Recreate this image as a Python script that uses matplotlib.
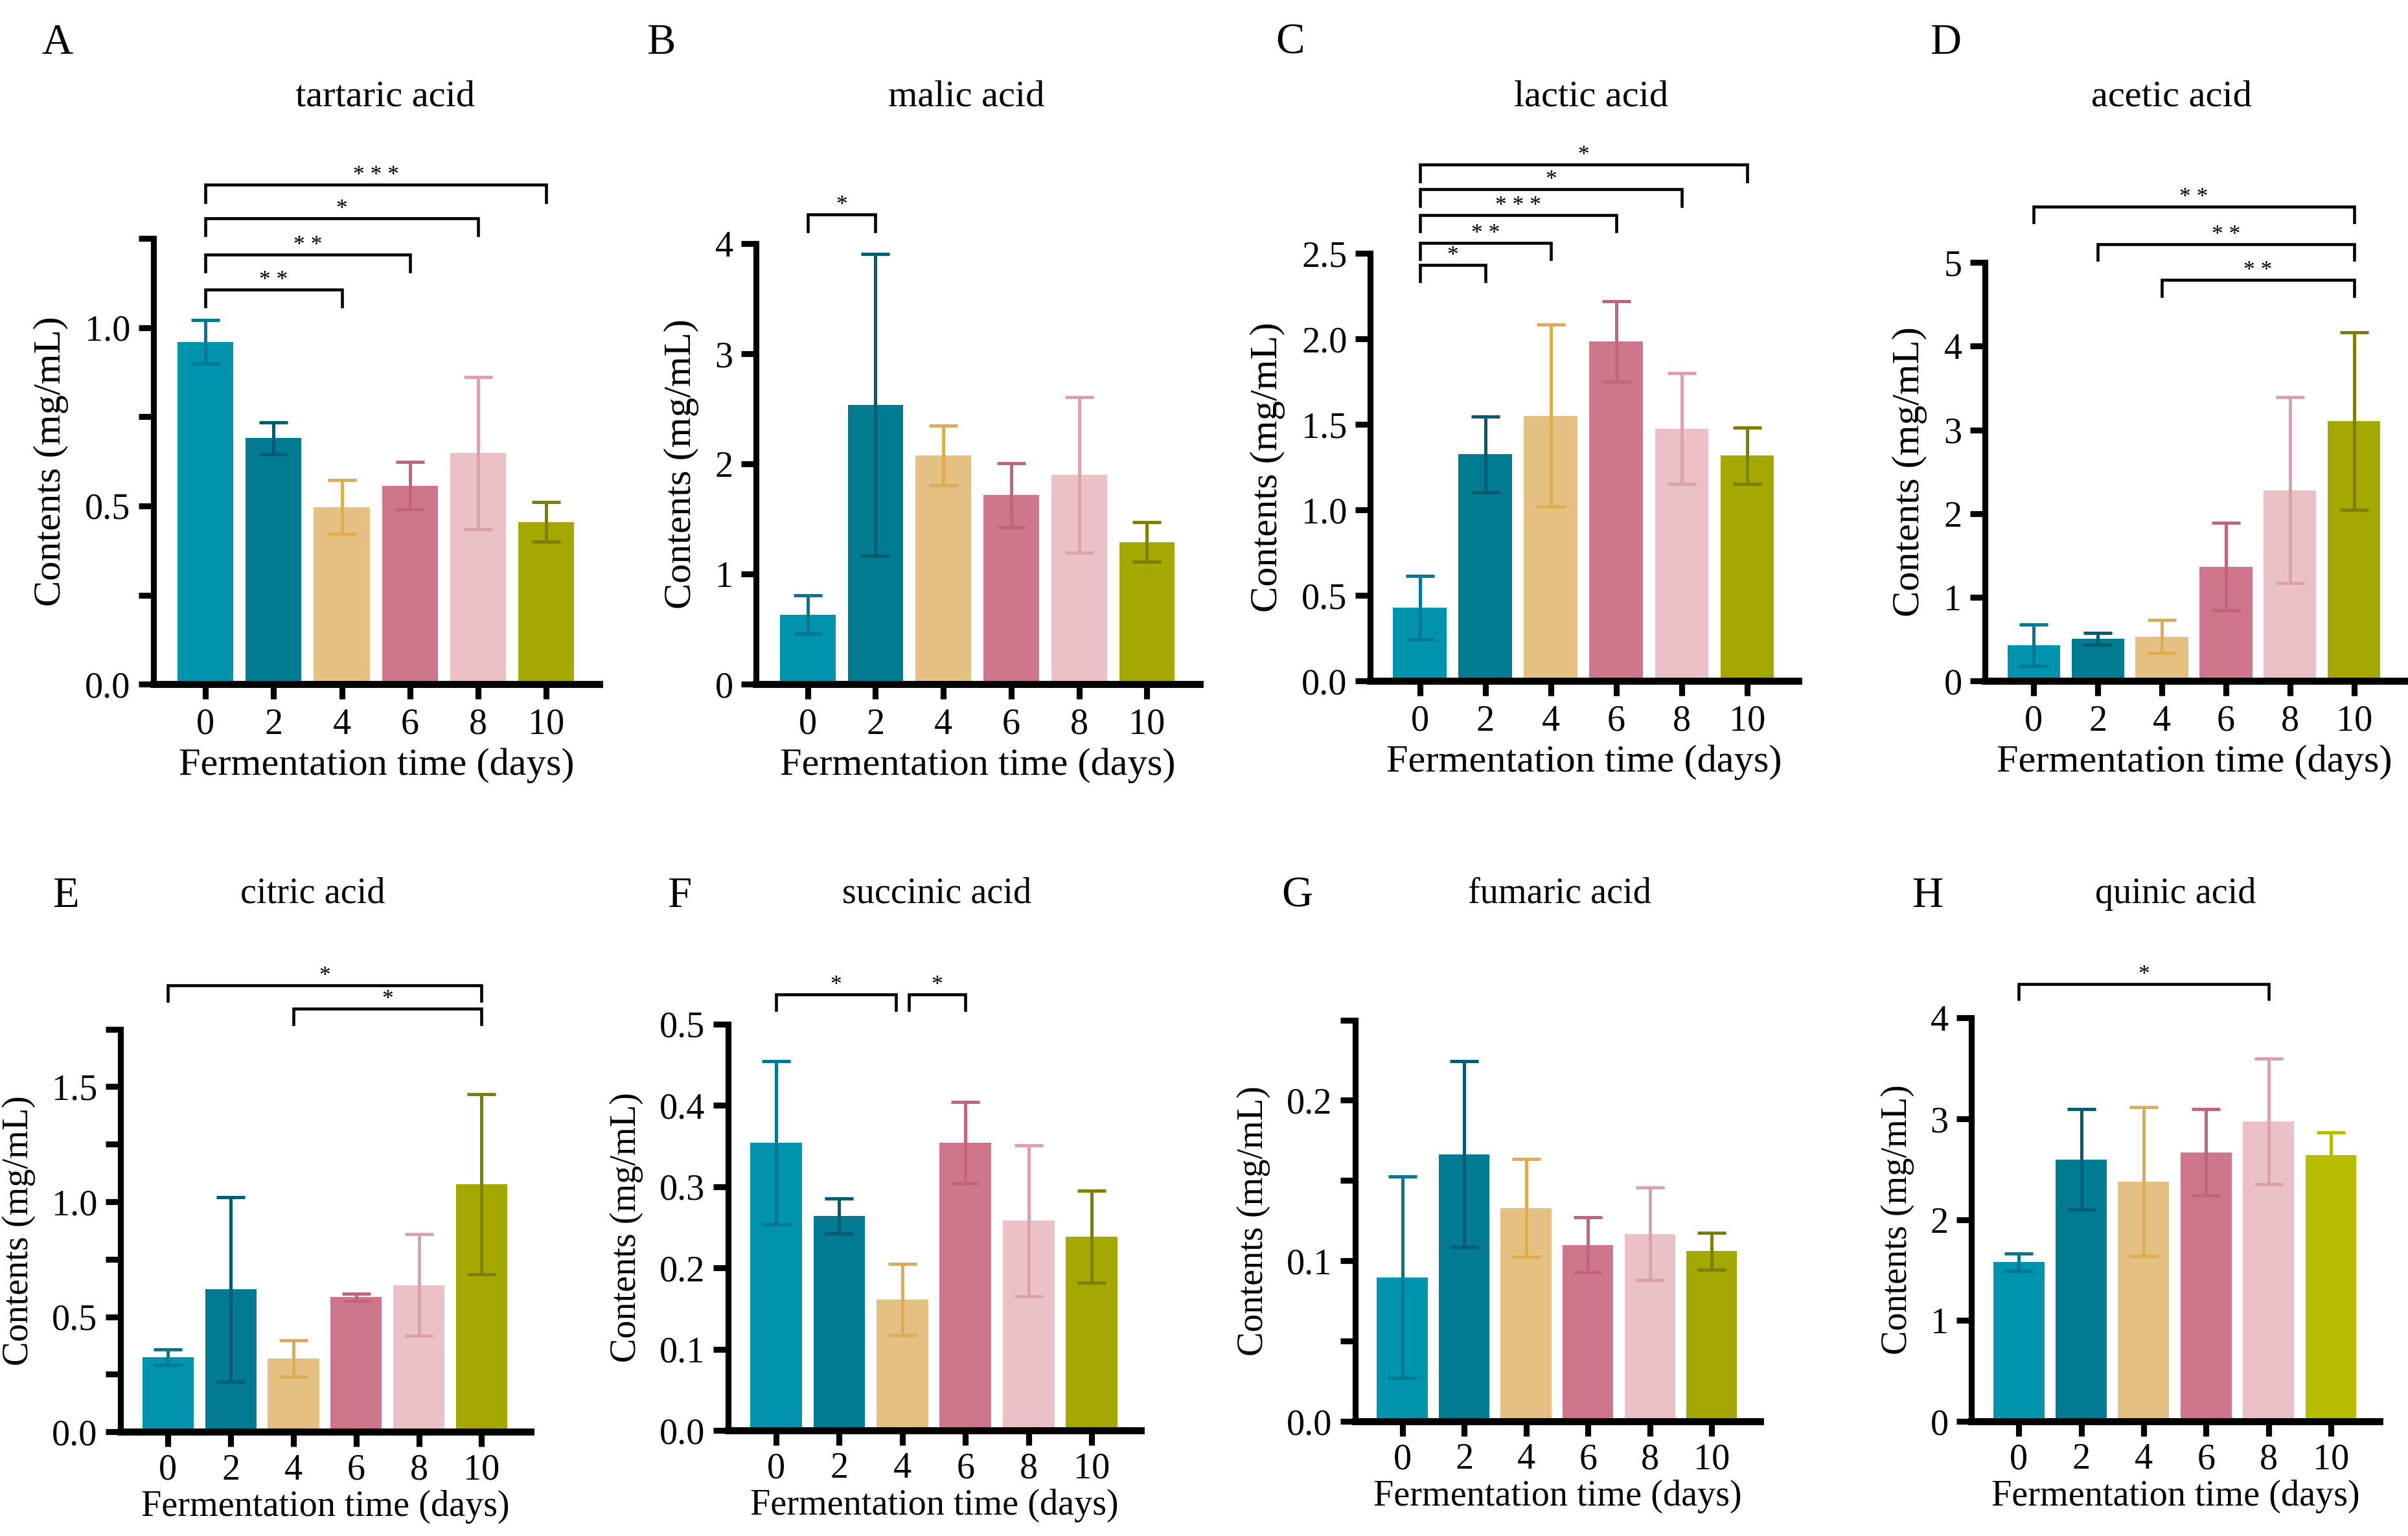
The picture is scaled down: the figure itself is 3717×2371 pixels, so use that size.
import numpy as np
import matplotlib
matplotlib.use('Agg')
import matplotlib.pyplot as plt
from matplotlib.ticker import MultipleLocator

plt.rcParams['font.family'] = ['Liberation Serif', 'DejaVu Serif']

# Data (mean and SD, mg/mL)
days = ['0', '2', '4', '6', '8', '10']

tartaric_mean = [0.96, 0.69, 0.497, 0.557, 0.648, 0.455]
tartaric_sd = [0.061, 0.045, 0.076, 0.066, 0.214, 0.055]

malic_mean = [0.633, 2.535, 2.075, 1.718, 1.902, 1.292]
malic_sd = [0.175, 1.37, 0.27, 0.291, 0.707, 0.18]

lactic_mean = [0.428, 1.325, 1.552, 1.985, 1.476, 1.318]
lactic_sd = [0.186, 0.222, 0.533, 0.235, 0.324, 0.165]

acetic_mean = [0.425, 0.505, 0.53, 1.365, 2.28, 3.105]
acetic_sd = [0.248, 0.067, 0.198, 0.523, 1.11, 1.06]

citric_mean = [0.325, 0.619, 0.319, 0.586, 0.638, 1.076]
citric_sd = [0.033, 0.401, 0.078, 0.0155, 0.221, 0.392]

succinic_mean = [0.354, 0.264, 0.161, 0.354, 0.258, 0.238]
succinic_sd = [0.1005, 0.0215, 0.0435, 0.05, 0.093, 0.0565]

fumaric_mean = [0.0897, 0.1665, 0.133, 0.110, 0.1168, 0.106]
fumaric_sd = [0.0628, 0.058, 0.0305, 0.0173, 0.0289, 0.0115]

quinic_mean = [1.579, 2.599, 2.377, 2.67, 2.976, 2.643]
quinic_sd = [0.0865, 0.4965, 0.7385, 0.43, 0.625, 0.222]

# significance brackets: (first bar, second bar, label, bracket height)
sig_tartaric = [(0, 2, '* *', 1.106), (0, 3, '* *', 1.205), (0, 4, '*', 1.306), (0, 5, '* * *', 1.40)]
sig_malic = [(0, 1, '*', 4.265)]
sig_lactic = [(0, 1, '*', 2.434), (0, 2, '* *', 2.563), (0, 3, '* * *', 2.725),
              (0, 4, '*', 2.874), (0, 5, '*', 3.018)]
sig_acetic = [(2, 5, '* *', 4.79), (1, 5, '* *', 5.22), (0, 5, '* *', 5.67)]
sig_citric = [(2, 5, '*', 1.838), (0, 5, '*', 1.94)]
sig_succinic = [(0, 2, '*', 0.536), (2, 3, '*', 0.536)]
sig_fumaric = []
sig_quinic = [(0, 4, '*', 4.34)]

bar_colors = ['#0093AD', '#007B92', '#E4C083', '#CE768C', '#EBC1C8', '#A5A800']
err_colors = ['#00788F', '#005C70', '#E0AC50', '#C4637E', '#DDA0AE', '#7D7F00']

# letter, title, mean, sd, brackets, ymax, major, minor, fmt, axes rect, letter x, title x, row
panels = [
    ('A', 'tartaric acid', tartaric_mean, tartaric_sd, sig_tartaric, 1.25, 0.5, 0.25, '%.1f',
     [0.0638, 0.5545, 0.1851, 0.2903], 0.0237, 0.160, 0),
    ('B', 'malic acid', malic_mean, malic_sd, sig_malic, 4, 1, None, '%d',
     [0.3140, 0.5545, 0.1843, 0.2869], 0.2744, 0.4014, 0),
    ('C', 'lactic acid', lactic_mean, lactic_sd, sig_lactic, 2.5, 0.5, None, '%.1f',
     [0.5690, 0.5566, 0.1778, 0.2784], 0.5357, 0.6608, 0),
    ('D', 'acetic acid', acetic_mean, acetic_sd, sig_acetic, 5, 1, None, '%d',
     [0.8243, 0.5566, 0.1741, 0.2725], 0.8080, 0.9018, 0),
    ('E', 'citric acid', citric_mean, citric_sd, sig_citric, 1.75, 0.5, 0.25, '%.1f',
     [0.0500, 0.0678, 0.1703, 0.2622], 0.0272, 0.130, 1),
    ('F', 'succinic acid', succinic_mean, succinic_sd, sig_succinic, 0.5, 0.1, None, '%.1f',
     [0.3024, 0.0687, 0.1714, 0.2647], 0.2822, 0.389, 1),
    ('G', 'fumaric acid', fumaric_mean, fumaric_sd, sig_fumaric, 0.25, 0.1, 0.05, '%.1f',
     [0.5628, 0.0746, 0.1681, 0.2613], 0.5386, 0.6476, 1),
    ('H', 'quinic acid', quinic_mean, quinic_sd, sig_quinic, 4, 1, None, '%d',
     [0.8187, 0.0746, 0.1695, 0.2626], 0.8004, 0.9034, 1),
]

fig = plt.figure(figsize=(3717 / 300, 2371 / 300), dpi=300)

for (letter, title, mean, sd, sig, ymax, major, minor, fmt, rect, lx, tx, row) in panels:
    ax = fig.add_axes(rect)
    x = np.arange(len(days))
    colors = list(bar_colors)
    ecolors = list(err_colors)
    if letter == 'H':
        colors[5] = '#B8BC00'
        ecolors[5] = '#B8BC00'
    ax.bar(x, mean, width=0.82, color=colors, zorder=1)
    for i in range(len(x)):
        ax.errorbar(x[i], mean[i], yerr=sd[i], fmt='none', ecolor=ecolors[i],
                    elinewidth=1.2, capsize=5.2, capthick=1.2, zorder=2)

    ax.set_xlim(-0.76, 5.78)
    ax.set_ylim(0, ymax)
    ax.set_xticks(x)
    ax.set_xticklabels(days)
    ax.yaxis.set_major_locator(MultipleLocator(major))
    if minor:
        ax.yaxis.set_minor_locator(MultipleLocator(minor))
    ax.yaxis.set_major_formatter(matplotlib.ticker.FormatStrFormatter(fmt))
    for s in ['top', 'right']:
        ax.spines[s].set_visible(False)
    ax.spines['left'].set_linewidth(2.2)
    ax.spines['bottom'].set_linewidth(2.6)
    ax.tick_params(axis='both', which='major', length=5.5, width=2.2, labelsize=13.5, pad=3)
    ax.tick_params(axis='x', pad=3.2 if row == 0 else 2.5)
    ax.tick_params(axis='y', which='minor', length=5.5, width=2.2)

    lab_size = 14.5 if row == 0 else 13.5
    ax.set_ylabel('Contents (mg/mL)', fontsize=lab_size, labelpad=6)
    ax.set_xlabel('Fermentation time (days)', fontsize=lab_size, labelpad=2.5 if row == 0 else 1)

    # significance brackets
    tip = 0.038 * ymax
    for (a, b, lab, h) in sig:
        xa, xb = x[a], x[b]
        for (a2, b2, lab2, h2) in sig:
            if h2 == h and (a2, b2) != (a, b):
                if b == a2:
                    xb = x[b] - 0.1
                if a == b2:
                    xa = x[a] + 0.1
        ax.plot([xa, xa, xb, xb], [h - tip, h, h, h - tip], color='black', lw=1.1,
                clip_on=False, solid_joinstyle='miter')
        ax.annotate(lab, ((xa + xb) / 2, h), xytext=(0, 1.2), textcoords='offset points',
                    ha='center', va='baseline', fontsize=8.5, annotation_clip=False)

    ty = 0.937 if row == 0 else 0.418
    ly = 0.972 if row == 0 else 0.4167
    fig.text(tx, ty, title, ha='center', va='center', fontsize=14 if row == 0 else 13.5)
    fig.text(lx, ly, letter, ha='center', va='center', fontsize=16)

fig.savefig('out.png', dpi=300)
